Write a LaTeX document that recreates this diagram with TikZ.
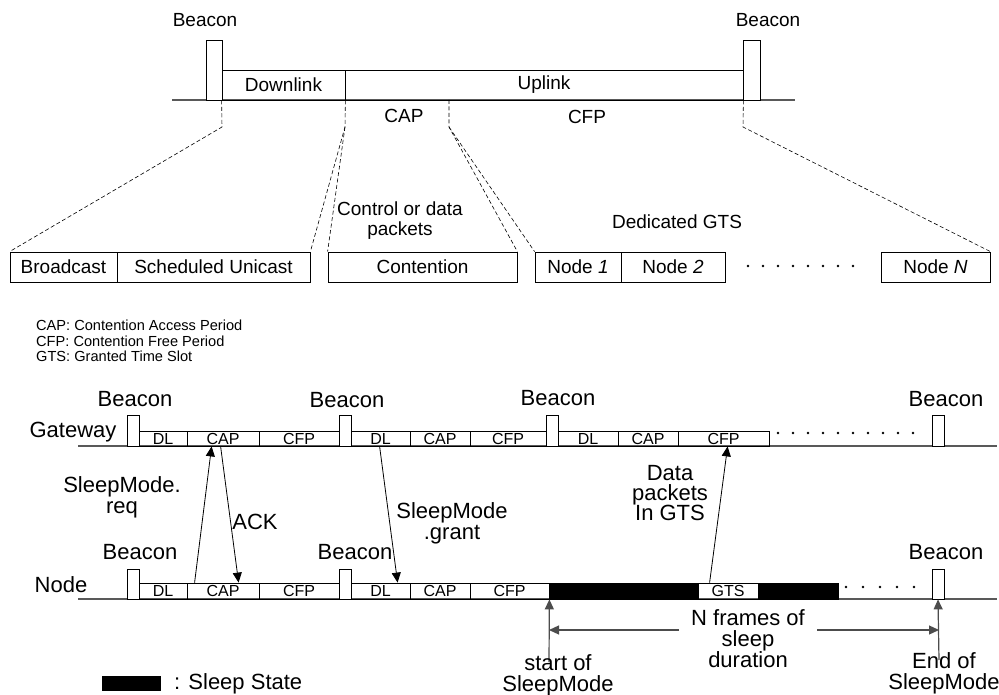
\documentclass[tikz,border=0pt]{standalone}
\usepackage{fontspec}
\setmainfont{Liberation Sans}
\usetikzlibrary{arrows.meta}

\begin{document}
\begin{tikzpicture}[
  x=1pt,y=-1pt,
  line join=miter,
  cell/.style={draw,line width=0.8pt,inner sep=0pt,minimum height=30,font=\fontsize{19}{20}\selectfont},
  slot/.style={draw,line width=0.8pt,inner sep=0pt,font=\fontsize{16}{16}\selectfont},
  beacon/.style={draw,line width=0.8pt,inner sep=0pt,fill=white},
  sleepbar/.style={fill=black,draw=black,line width=0.8pt,inner sep=0pt,minimum height=16},
  timeline/.style={draw=black!65,line width=1.1pt},
  zoomlink/.style={draw,line width=0.6pt,dash pattern=on 4pt off 2.5pt},
  msg/.style={draw,line width=0.8pt,-{Triangle[length=10pt,width=9pt]}},
  span/.style={draw=black!70,line width=1.2pt,-{Triangle[length=10pt,width=9pt]}},
  toplabel/.style={font=\fontsize{19}{20}\selectfont,align=center},
  biglabel/.style={font=\fontsize{22}{21}\selectfont,align=center},
  dot/.style={fill=black,circle,inner sep=0pt,minimum size=2.8pt}
]
  \useasboundingbox (0,0) rectangle (999,695);

  \draw[timeline] (172,100) -- (795,100);
  \node[beacon,minimum width=16,minimum height=60] (tb1) at (214,70) {};
  \node[beacon,minimum width=17,minimum height=60] (tb2) at (751.5,70) {};
  \node[cell,minimum width=123] (down) at (283.5,85) {Downlink};
  \node[cell,minimum width=398] (up) at (544,85) {Uplink};
  \node[toplabel] (tbl1) at (205,20) {Beacon};
  \node[toplabel] (tbl2) at (768,20) {Beacon};
  \node[toplabel] (cap) at (404,116) {CAP};
  \node[toplabel] (cfp) at (587,117) {CFP};
  \coordinate (capend) at (449,100);

  \node[cell,minimum width=107] (bcast) at (63.5,267) {Broadcast};
  \node[cell,minimum width=193] (uni) at (213.5,267) {Scheduled Unicast};
  \node[cell,minimum width=189] (cont) at (422.5,267) {Contention};
  \node[cell,minimum width=86] (n1) at (578,267) {Node \textit{1}};
  \node[cell,minimum width=104] (n2) at (673,267) {Node \textit{2}};
  \node[cell,minimum width=109] (nN) at (935.5,267) {Node \textit{N}};
  \foreach \i in {0,...,7} {
    \node[dot] (gd\i) at (748+15*\i,266) {};
  }
  \node[toplabel] (ctrl) at (400,221) {Control or data\\packets};
  \node[toplabel] (ded) at (677,222) {Dedicated GTS};

  \coordinate (k1) at (222,127);
  \coordinate (k2) at (345,127);
  \coordinate (k3) at (449,127);
  \coordinate (k4) at (743,127);
  \draw[zoomlink] (down.south west) -- (k1) -- (bcast.north west);
  \draw[zoomlink] (down.south east) -- (k2) -- (uni.north east);
  \draw[zoomlink] (k2) -- (cont.north west);
  \draw[zoomlink] (capend) -- (k3) -- (cont.north east);
  \draw[zoomlink] (k3) -- (n1.north west);
  \draw[zoomlink] (up.south east) -- (k4) -- (nN.north east);

  \node[anchor=north west,inner sep=0pt,align=left,font=\fontsize{14.6}{15.5}\selectfont] (legend) at (36,320)
    {CAP: Contention Access Period\\CFP: Contention Free Period\\GTS: Granted Time Slot};

  % gateway frames
  \draw[timeline] (78,446) -- (997,446);
  \foreach \a/\b/\t/\n in {139/187/DL/gdl1,187/259/CAP/gcap1,259/339/CFP/gcfp1,
      351/410/DL/gdl2,410/470/CAP/gcap2,470/546/CFP/gcfp2,
      558/618/DL/gdl3,618/678/CAP/gcap3,678/769/CFP/gcfp3} {
    \node[slot,minimum width=\b-\a,minimum height=15] (\n) at ({(\a+\b)/2},438.5) {\t};
  }
  \foreach \x/\n in {133/gb1,345/gb2,552/gb3,938/gb4} {
    \node[beacon,minimum width=12,minimum height=31] (\n) at (\x,430.5) {};
  }
  \foreach \i in {0,...,9} {
    \node[dot] (gw\i) at (778+15*\i,433) {};
  }
  \node[biglabel] (gwl) at (73,432) {Gateway};
  \node[biglabel] (gbl1) at (135,399) {Beacon};
  \node[biglabel] (gbl2) at (347,400) {Beacon};
  \node[biglabel] (gbl3) at (558,398) {Beacon};
  \node[biglabel] (gbl4) at (946,399) {Beacon};

  % node frames
  \draw[timeline] (78,599) -- (997,599);
  \node[sleepbar,minimum width=149] (sl1) at (623.5,591) {};
  \node[sleepbar,minimum width=80] (sl2) at (798,591) {};
  \foreach \a/\b/\t/\n in {139/187/DL/ndl1,187/259/CAP/ncap1,259/339/CFP/ncfp1,
      351/410/DL/ndl2,410/470/CAP/ncap2,470/549/CFP/ncfp2,698/758/GTS/ngts} {
    \node[slot,minimum width=\b-\a,minimum height=16] (\n) at ({(\a+\b)/2},591) {\t};
  }
  \foreach \x/\n in {133/nb1,345/nb2,938/nb3} {
    \node[beacon,minimum width=12,minimum height=30] (\n) at (\x,584) {};
  }
  \foreach \i in {0,...,4} {
    \node[dot] (nw\i) at (846+17*\i,587) {};
  }
  \node[biglabel] (ndl) at (61,585) {Node};
  \node[biglabel] (nbl1) at (140,552) {Beacon};
  \node[biglabel] (nbl2) at (355,552) {Beacon};
  \node[biglabel] (nbl3) at (946,552) {Beacon};

  % messages
  \draw[msg] ([xshift=8pt]ncap1.north west) -- ([xshift=25pt]gcap1.south west);
  \draw[msg] ([xshift=34pt]gcap1.south west) -- ([xshift=52pt]ncap1.north west);
  \draw[msg] ([xshift=29pt]gdl2.south west) -- ([xshift=47pt]ndl2.north west);
  \draw[msg] ([xshift=12pt]ngts.north west) -- ([xshift=50pt]gcfp3.south west);
  \node[biglabel] (req) at (122,497) {SleepMode.\\req};
  \node[biglabel] (ack) at (255,522) {ACK};
  \node[biglabel] (grant) at (452,523) {SleepMode\\.grant};
  \node[biglabel,font=\fontsize{22}{20}\selectfont] (data) at (670,493) {Data\\packets\\In GTS};

  % sleep duration
  \coordinate (ss) at (549,662);
  \coordinate (es) at (939,660);
  \coordinate (hl) at (679,630);
  \coordinate (hr) at (817,630);
  \draw[span] (ss) -- (ncfp2.south east);
  \draw[span] (es) -- (nb3.south);
  \draw[span] (hl) -- (ss |- hl);
  \draw[span] (hr) -- (es |- hr);
  \node[biglabel] (dur) at (748,639) {N frames of\\sleep\\duration};
  \node[biglabel] (start) at (558,675) {start of\\SleepMode};
  \node[biglabel] (stop) at (944,673) {End of\\SleepMode};

  \node[sleepbar,minimum width=58,minimum height=14] (key) at (131,683) {};
  \node[biglabel,anchor=west,inner sep=0pt] (keyl) at (174,684) {: Sleep State};
\end{tikzpicture}
\end{document}
